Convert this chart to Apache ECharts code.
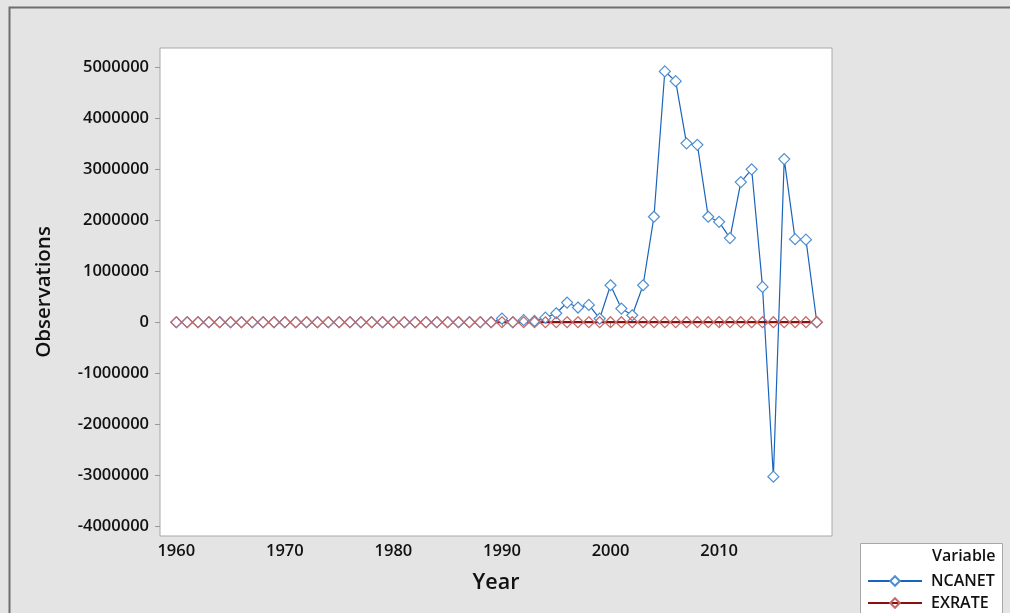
<!DOCTYPE html>
<html>
<head>
<meta charset="utf-8">
<script src="https://cdn.jsdelivr.net/npm/echarts@6/dist/echarts.min.js"></script>
<style>
  html, body { margin: 0; padding: 0; background: #e4e4e4; }
  #chart { width: 1010px; height: 613px; }
</style>
</head>
<body>
<div id="chart"></div>
<script>
// Time-series plot of NCANET and EXRATE by year
const years = [];
for (let y = 1960; y <= 2019; y++) years.push(y);

const ncanet = [
  0, 0, 0, 0, 0, 0, 0, 0, 0, 0,                                  // 1960s
  0, 0, 0, 0, 0, 0, 0, 0, 0, 0,                                  // 1970s
  0, 0, 0, 0, 0, 0, 0, 0, 0, 0,                                  // 1980s
  72000, 0, 40000, 25000, 90000, 176000, 386000, 288000, 340000, 72000,        // 1990s
  725000, 268000, 137000, 725000, 2070000, 4920000, 4730000, 3510000, 3480000, 2070000, // 2000s
  1970000, 1650000, 2750000, 3000000, 693000, -3030000, 3200000, 1630000, 1620000, 0    // 2010s
];

const exrate = [
  0.714, 0.714, 0.714, 0.714, 0.714, 0.714, 0.714, 0.714, 0.714, 0.714,
  0.714, 0.714, 0.658, 0.658, 0.630, 0.616, 0.627, 0.645, 0.635, 0.604,
  0.547, 0.618, 0.673, 0.724, 0.767, 0.894, 1.755, 4.016, 4.537, 7.365,
  8.038, 9.909, 17.298, 22.065, 21.996, 21.895, 21.884, 21.886, 21.886, 92.338,
  101.697, 111.231, 120.578, 129.222, 132.888, 131.274, 128.652, 125.808, 118.546, 148.902,
  150.298, 153.862, 157.499, 157.311, 158.553, 192.440, 253.492, 305.790, 306.084, 306.921
];

const yearTicks = [1960, 1970, 1980, 1990, 2000, 2010];
const valueTicks = [-4000000, -3000000, -2000000, -1000000, 0, 1000000, 2000000, 3000000, 4000000, 5000000];

const seriesNames = ['NCANET', 'EXRATE'];

const FONT = '"Open Sans", "Noto Sans", sans-serif';
const TEXT = '#111';
const plain = v => String(Math.round(v));

const chart = echarts.init(document.getElementById('chart'), null, { renderer: 'canvas' });

chart.setOption({
  backgroundColor: '#e4e4e4',
  animation: false,
  textStyle: { fontFamily: FONT },
  grid: {
    left: 160, top: 48, right: 178, bottom: 77,
    show: true, backgroundColor: '#ffffff', borderColor: '#a8a8a8', borderWidth: 1
  },
  xAxis: {
    type: 'value',
    min: 1958.5, max: 2020.4,
    splitLine: { show: false },
    axisLine: { show: false },
    axisTick: { show: true, length: 5, lineStyle: { color: '#999' }, customValues: yearTicks },
    axisLabel: {
      customValues: yearTicks, margin: 7, formatter: plain,
      color: TEXT, fontSize: 16.5, fontWeight: 600, fontFamily: FONT
    },
    name: 'Year', nameLocation: 'middle', nameGap: 36,
    nameTextStyle: { color: TEXT, fontSize: 21.5, fontWeight: 600, fontFamily: FONT }
  },
  yAxis: {
    type: 'value',
    min: -4194000, max: 5380000,
    splitLine: { show: false },
    axisLine: { show: false },
    axisTick: { show: true, length: 5, lineStyle: { color: '#999' }, customValues: valueTicks },
    axisLabel: {
      customValues: valueTicks, margin: 11, formatter: plain,
      color: TEXT, fontSize: 16.5, fontWeight: 600, fontFamily: FONT
    },
    name: 'Observations', nameLocation: 'middle', nameGap: 105, nameRotate: 90,
    nameTextStyle: { color: TEXT, fontSize: 20.5, fontWeight: 600, fontFamily: FONT }
  },
  legend: {
    orient: 'vertical', left: 867, top: 573, padding: 0, height: 50,
    itemWidth: 54, itemHeight: 12, itemGap: 6,
    data: seriesNames,
    textStyle: { color: TEXT, fontSize: 16, fontWeight: 600, fontFamily: FONT, padding: [0, 0, 0, 4] }
  },
  graphic: [
    {
      type: 'rect', left: 7, top: 5, z: -10, silent: true,
      shape: { width: 1040, height: 640 },
      style: { fill: 'none', stroke: '#6e6e6e', lineWidth: 2 }
    },
    {
      type: 'rect', left: 860, top: 543, z: -5, silent: true,
      shape: { width: 142, height: 80 },
      style: { fill: '#ffffff', stroke: '#a8a8a8', lineWidth: 1 }
    },
    {
      type: 'text', left: 932, top: 548, silent: true,
      style: { text: 'Variable', fill: TEXT, font: '600 16px ' + FONT }
    }
  ],
  series: [
    {
      name: 'NCANET', type: 'line',
      data: years.map((y, i) => [y, ncanet[i]]),
      symbol: 'diamond', symbolSize: 11, showAllSymbol: true,
      lineStyle: { color: '#1a64bb', width: 1.2 },
      itemStyle: { color: '#ffffff', borderColor: '#4f8fd0', borderWidth: 1.2 },
      emphasis: { disabled: true }
    },
    {
      name: 'EXRATE', type: 'line',
      data: years.map((y, i) => [y, exrate[i]]),
      symbol: 'diamond', symbolSize: 11, showAllSymbol: true,
      lineStyle: { color: '#8a0f0f', width: 2.2 },
      itemStyle: { color: 'rgba(255,255,255,0)', borderColor: '#c46a6a', borderWidth: 1.2 },
      emphasis: { disabled: true }
    }
  ]
});
</script>
</body>
</html>
